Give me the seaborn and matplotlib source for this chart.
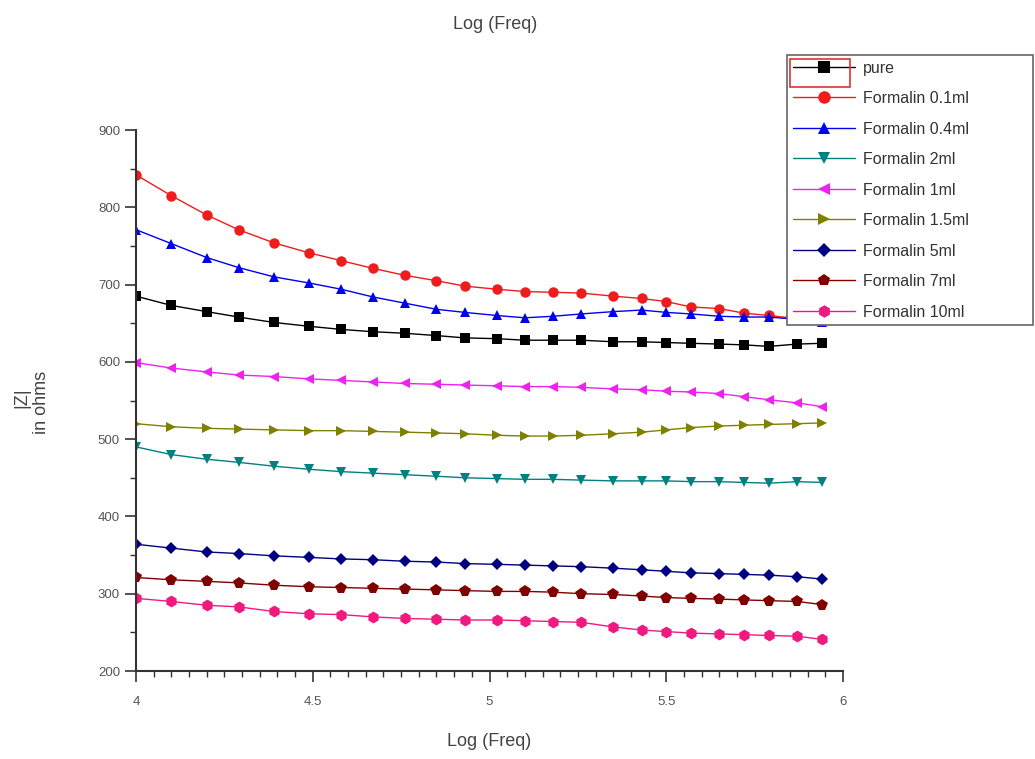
import numpy as np
import pandas as pd
import matplotlib
matplotlib.use('Agg')
import matplotlib.pyplot as plt
from matplotlib.ticker import MultipleLocator, FuncFormatter
from matplotlib.patches import Rectangle
import seaborn as sns


# values
log_freq = [4.00, 4.10, 4.20, 4.29, 4.39, 4.49, 4.58, 4.67, 4.76, 4.85, 4.93, 5.02,
            5.10, 5.18, 5.26, 5.35, 5.43, 5.50, 5.57, 5.65, 5.72, 5.79, 5.87, 5.94]

pure = [685, 673, 665, 658, 651, 646, 642, 639, 637, 634, 631, 630,
        628, 628, 628, 626, 626, 625, 624, 623, 622, 620, 623, 624]
formalin_01 = [842, 815, 790, 771, 754, 741, 731, 721, 712, 705, 698, 694,
               691, 690, 689, 685, 682, 678, 671, 669, 663, 660, 656, 653]
formalin_04 = [771, 753, 735, 722, 710, 702, 694, 684, 676, 668, 664, 660,
               657, 659, 662, 665, 667, 664, 662, 659, 658, 658, 655, 652]
formalin_2 = [490, 480, 474, 470, 465, 461, 458, 456, 454, 452, 450, 449,
              448, 448, 447, 446, 446, 446, 445, 445, 444, 443, 445, 444]
formalin_1 = [599, 592, 587, 583, 581, 578, 576, 574, 572, 571, 570, 569,
              568, 568, 567, 565, 564, 562, 561, 559, 555, 551, 547, 542]
formalin_15 = [520, 516, 514, 513, 512, 511, 511, 510, 509, 508, 507, 505,
               504, 504, 505, 507, 509, 512, 515, 517, 518, 519, 520, 521]
formalin_5 = [364, 359, 354, 352, 349, 347, 345, 344, 342, 341, 339, 338,
              337, 336, 335, 333, 331, 329, 327, 326, 325, 324, 322, 319]
formalin_7 = [321, 318, 316, 314, 311, 309, 308, 307, 306, 305, 304, 303,
              303, 302, 300, 299, 297, 295, 294, 293, 292, 291, 290, 286]
formalin_10 = [294, 290, 285, 283, 277, 274, 273, 270, 268, 267, 266, 266,
               265, 264, 263, 257, 253, 251, 249, 248, 247, 246, 245, 241]

labels = ['pure', 'Formalin 0.1ml', 'Formalin 0.4ml', 'Formalin 2ml', 'Formalin 1ml',
          'Formalin 1.5ml', 'Formalin 5ml', 'Formalin 7ml', 'Formalin 10ml']
series = [pure, formalin_01, formalin_04, formalin_2, formalin_1,
          formalin_15, formalin_5, formalin_7, formalin_10]
colors = ['#000000', '#ee1c1c', '#0000ee', '#008080', '#ee22ee',
          '#808000', '#000080', '#800000', '#ee1a80']
marker_list = ['s', 'o', '^', 'v', '<', '>', 'D', 'p', 'h']

df = pd.concat([
    pd.DataFrame({'log_freq': log_freq, 'z': vals, 'sample': lab})
    for lab, vals in zip(labels, series)
], ignore_index=True)

sns.set_style('ticks')
plt.rcParams['font.family'] = ['Liberation Sans', 'DejaVu Sans']

fig = plt.figure(figsize=(10.35, 7.59), dpi=100)
ax = fig.add_axes([136 / 1035, 1 - 671 / 759, 707 / 1035, 541 / 759])

sns.lineplot(data=df, x='log_freq', y='z', hue='sample', style='sample',
             hue_order=labels, style_order=labels,
             palette=dict(zip(labels, colors)),
             markers=dict(zip(labels, marker_list)), dashes=False,
             markersize=7.5, markeredgewidth=0, linewidth=1, ax=ax)

# diamond looks oversized next to the other symbols, pentagon/hexagon undersized
for ln in ax.lines:
    if ln.get_marker() == 'D':
        ln.set_markersize(6)
    elif ln.get_marker() in ('p', 'h'):
        ln.set_markersize(8.5)

ax.set_xlim(4, 6)
ax.set_ylim(200, 900)
ax.xaxis.set_major_locator(MultipleLocator(0.5))
ax.xaxis.set_minor_locator(MultipleLocator(0.05))
ax.yaxis.set_major_locator(MultipleLocator(100))
ax.yaxis.set_minor_locator(MultipleLocator(50))
ax.xaxis.set_major_formatter(FuncFormatter(lambda v, p: '%g' % v))
ax.tick_params(which='major', direction='out', length=8, width=1.2,
               color='#333333', labelsize=9.5, labelcolor='#555555')
ax.tick_params(which='minor', direction='out', length=4, width=1, color='#333333')
ax.tick_params(axis='x', pad=10)
sns.despine(ax=ax)
for side in ['left', 'bottom']:
    ax.spines[side].set_linewidth(1.5)
    ax.spines[side].set_color('#333333')

ax.set_xlabel('Log (Freq)', fontsize=13, color='#444444', labelpad=18)
ax.set_ylabel('')
fig.text(22 / 1035, 1 - 398 / 759, '|Z|', fontsize=13, color='#444444',
         rotation=90, ha='center', va='center')
fig.text(41 / 1035, 1 - 402 / 759, 'in ohms', fontsize=13, color='#444444',
         rotation=90, ha='center', va='center')
fig.text(0.478, 0.968, 'Log (Freq)', fontsize=13, color='#444444',
         ha='center', va='center')

handles, labs = ax.get_legend_handles_labels()
for h in handles:
    h.set_markeredgewidth(0)
    h.set_markersize(7.5 if h.get_marker() == 'D' else 9)
leg = ax.legend(handles, labs, loc='upper left',
                bbox_to_anchor=(787 / 1035, 1 - 328 / 759, 246 / 1035, 273 / 759),
                bbox_transform=fig.transFigure, mode='expand', fontsize=11.5,
                handlelength=3.9, handletextpad=0.5, labelspacing=0.97,
                borderpad=0.35, borderaxespad=0, fancybox=False,
                framealpha=1, edgecolor='#666666')
leg.get_frame().set_linewidth(1.2)
for t in leg.get_texts():
    t.set_color('#333333')
leg.set_zorder(10)

# selection box drawn around the first legend symbol in the reference
fig.patches.append(Rectangle((790 / 1035, 1 - 87 / 759), 60 / 1035, 28 / 759,
                             transform=fig.transFigure, fill=False,
                             edgecolor='#dd3333', linewidth=1.2, zorder=20))

fig.savefig('out.png', dpi=100)
